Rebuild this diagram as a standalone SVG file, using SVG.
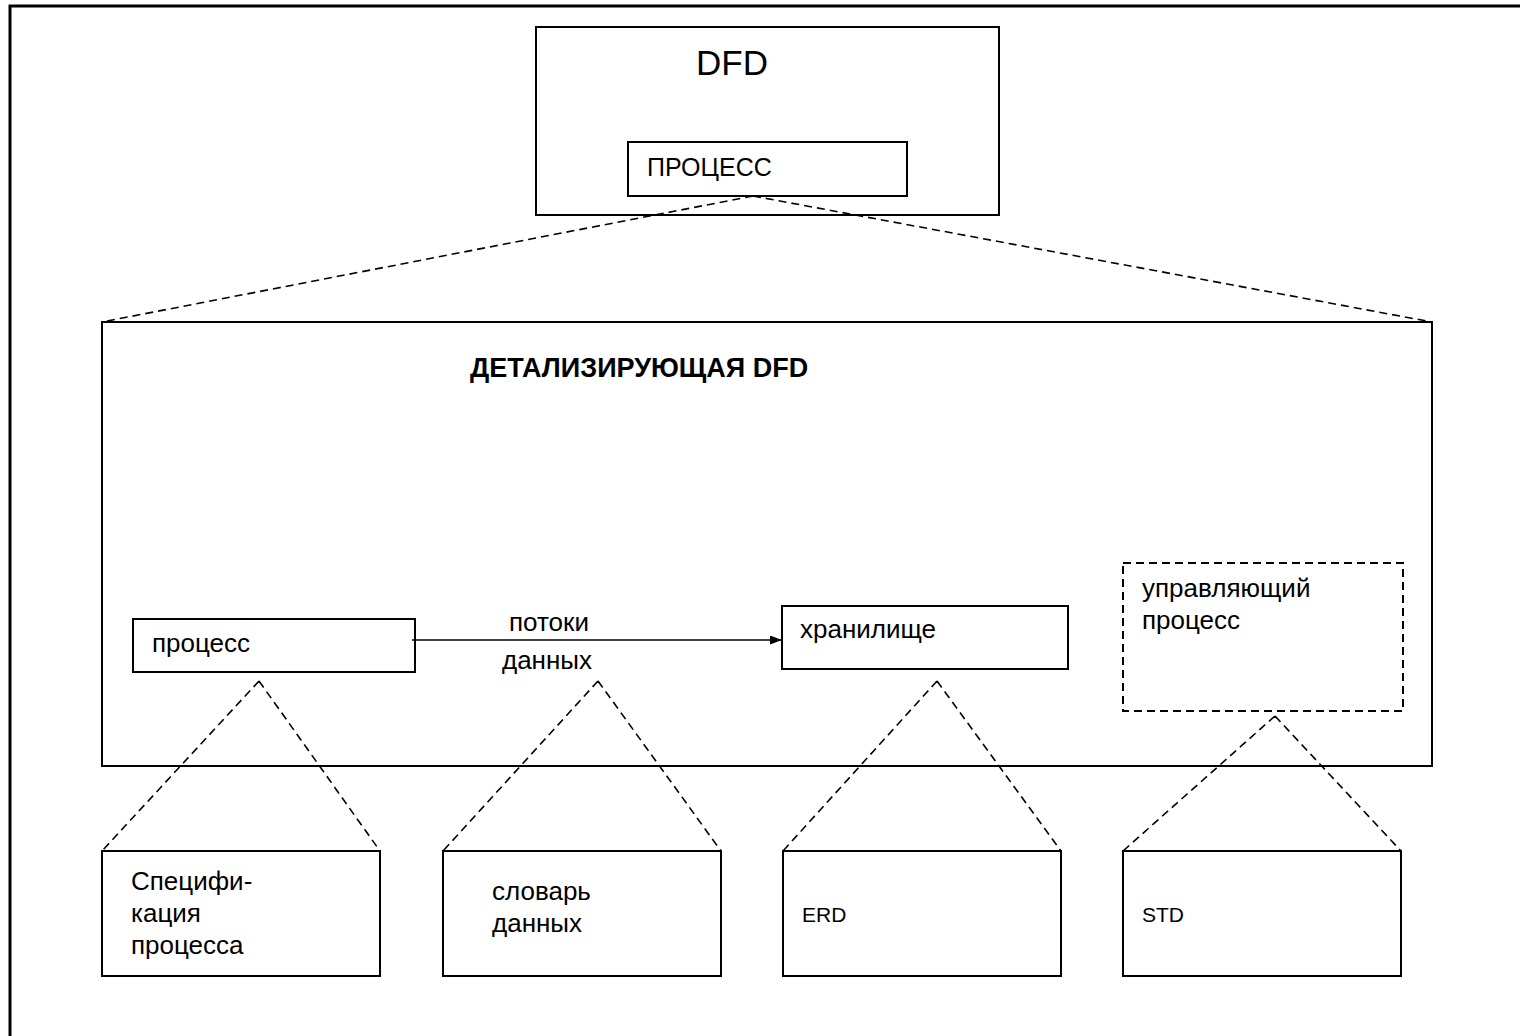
<svg xmlns="http://www.w3.org/2000/svg" width="1520" height="1036" viewBox="0 0 1520 1036">
<style>
.box{fill:none;stroke:#000;stroke-width:2}
.dbox{fill:none;stroke:#000;stroke-width:2;stroke-dasharray:8 5}
.dash{fill:none;stroke:#000;stroke-width:1.6;stroke-dasharray:8 5}
.frame{fill:none;stroke:#000;stroke-width:3}
text{font-family:"Liberation Sans",Arial,sans-serif;font-size:26px;fill:#000}
.lat{font-size:21px}
</style>
<defs>
<marker id="arr" markerWidth="12" markerHeight="9" refX="12" refY="4.5" orient="auto" markerUnits="userSpaceOnUse">
<path d="M0,0 L12,4.5 L0,9 Z" fill="#000"/>
</marker>
</defs>
<rect width="1520" height="1036" fill="#fff"/>
<path class="frame" d="M10,1036 V6 H1520"/>
<g id="dfd">
<rect class="box" x="536" y="27" width="463" height="188"/>
<text x="732" y="75" text-anchor="middle" style="font-size:35px">DFD</text>
</g>
<g id="process-top">
<rect class="box" x="628" y="142" width="279" height="54"/>
<text x="647" y="176" style="font-size:25px">ПРОЦЕСС</text>
</g>
<g id="detail-dfd">
<rect class="box" x="102" y="322" width="1330" height="444"/>
<text x="470" y="377" style="font-weight:bold;font-size:27px">ДЕТАЛИЗИРУЮЩАЯ DFD</text>
</g>
<g id="process">
<rect class="box" x="133" y="619" width="282" height="53"/>
<text x="152" y="652">процесс</text>
</g>
<g id="store">
<rect class="box" x="782" y="606" width="286" height="63"/>
<text x="800" y="638">хранилище</text>
</g>
<g id="control">
<rect class="dbox" x="1123" y="563" width="280" height="148"/>
<text x="1142" y="597">управляющий</text>
<text x="1142" y="629">процесс</text>
</g>
<g id="flow">
<text x="549" y="631" text-anchor="middle">потоки</text>
<text x="547" y="669" text-anchor="middle">данных</text>
</g>
<g id="spec">
<rect class="box" x="102" y="851" width="278" height="125"/>
<text x="131" y="890">Специфи-</text>
<text x="131" y="922">кация</text>
<text x="131" y="954">процесса</text>
</g>
<g id="dict">
<rect class="box" x="443" y="851" width="278" height="125"/>
<text x="492" y="900">словарь</text>
<text x="492" y="932">данных</text>
</g>
<g id="erd">
<rect class="box" x="783" y="851" width="278" height="125"/>
<text class="lat" x="802" y="922">ERD</text>
</g>
<g id="std">
<rect class="box" x="1123" y="851" width="278" height="125"/>
<text class="lat" x="1142" y="922">STD</text>
</g>
<g id="connectors">
<path class="dash" d="M753,196 L102,322 M753,196 L1432,322"/>
<path class="dash" d="M259,681 L102,851 M259,681 L380,851"/>
<path class="dash" d="M598,681 L443,851 M598,681 L721,851"/>
<path class="dash" d="M937,681 L783,851 M937,681 L1061,851"/>
<path class="dash" d="M1275,716 L1123,851 M1275,716 L1401,851"/>
<path d="M412,640 H782" stroke="#000" stroke-width="1.6" fill="none" marker-end="url(#arr)"/>
</g>
</svg>
